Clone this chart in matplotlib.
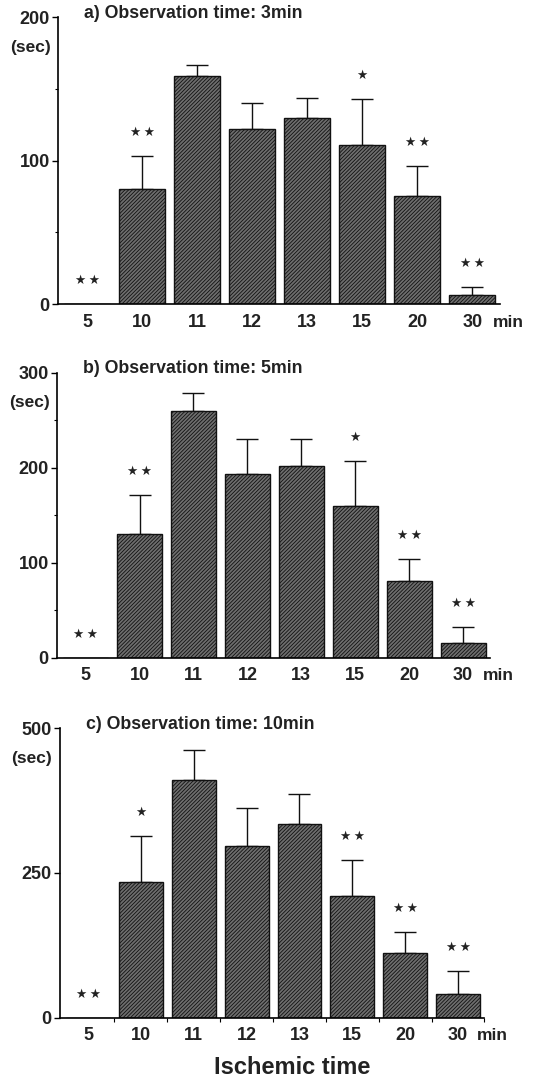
import numpy as np
import matplotlib
matplotlib.use("Agg")
import matplotlib.pyplot as plt
from matplotlib.ticker import MultipleLocator

plt.rcParams['font.family'] = ['Liberation Sans', 'DejaVu Sans']
plt.rcParams['font.weight'] = 'bold'
plt.rcParams['hatch.linewidth'] = 0.6

# ischemic time categories (min)
categories = ['5', '10', '11', '12', '13', '15', '20', '30']

# a) observation time 3 min
mean_3 = [0, 80, 159, 122, 130, 111, 75, 6]
err_3 = [0, 23, 8, 18, 14, 32, 21, 6]
sig_3 = ['**', '**', '', '', '', '*', '**', '**']

# b) observation time 5 min
mean_5 = [0, 130, 260, 193, 202, 160, 81, 16]
err_5 = [0, 41, 19, 37, 28, 47, 23, 16]
sig_5 = ['**', '**', '', '', '', '*', '**', '**']

# c) observation time 10 min
mean_10 = [0, 234, 410, 297, 334, 210, 112, 41]
err_10 = [0, 80, 52, 66, 52, 63, 36, 39]
sig_10 = ['**', '*', '', '', '', '**', '**', '**']

panels = [
    ('a) Observation time: 3min', mean_3, err_3, sig_3, 200, 100, 50,
     [0.108, 0.7185, 0.821, 0.2655]),
    ('b) Observation time: 5min', mean_5, err_5, sig_5, 300, 100, 50,
     [0.106, 0.391, 0.805, 0.264]),
    ('c) Observation time: 10min', mean_10, err_10, sig_10, 500, 250, None,
     [0.1115, 0.0577, 0.789, 0.268]),
]

fig = plt.figure(figsize=(5.38, 10.8), dpi=100)

for i, (title, mean, err, sig, ymax, major, minor, pos) in enumerate(panels):
    ax = fig.add_axes(pos)
    x = np.arange(len(categories))
    mean = np.array(mean)
    err = np.array(err)
    ax.bar(x, mean, width=0.83, color='#6e6e6e', edgecolor='#111111',
           linewidth=1.0, hatch='/////////', zorder=2)
    has = mean > 0
    ax.errorbar(x[has], mean[has], yerr=[np.zeros(has.sum()), err[has]],
                fmt='none', ecolor='#111111', elinewidth=1.0, capsize=8,
                capthick=1.0, zorder=1)
    # significance stars above the error bars
    for xi, m, e, s in zip(x, mean, err, sig):
        if s:
            ax.annotate('\u2009'.join('\u2605' * len(s)), xy=(xi, m + e),
                        xytext=(0, 17), textcoords='offset points',
                        ha='center', va='center', fontsize=9,
                        family=['DejaVu Sans'], color='#222222')

    ax.set_xlim(-0.53, 7.5)
    ax.set_ylim(0, ymax)
    ax.set_xticks(x)
    ax.set_xticklabels(categories, fontsize=13, fontweight='bold',
                       color='#222222')
    ax.yaxis.set_major_locator(MultipleLocator(major))
    if minor:
        ax.yaxis.set_minor_locator(MultipleLocator(minor))
    ax.tick_params(axis='y', which='major', length=4, width=1.0,
                   labelsize=13, pad=2, labelcolor='#222222')
    ax.tick_params(axis='y', which='minor', length=2.5, width=0.8)
    if i == 2:
        ax.set_xticks(list(x[:-1] + 0.5) + [7.5], minor=True)
        ax.tick_params(axis='x', which='minor', length=3, width=0.8)
    ax.tick_params(axis='x', which='major', length=0, pad=7)
    for lab in ax.get_yticklabels():
        lab.set_fontweight('bold')

    for side in ['top', 'right']:
        ax.spines[side].set_visible(False)
    ax.spines['left'].set_linewidth(1.2)
    ax.spines['bottom'].set_linewidth(1.2)

    ax.annotate(title, xy=(0, 1), xycoords='axes fraction',
                xytext=(19, 3), textcoords='offset points',
                ha='left', va='center', fontsize=12.8, fontweight='bold',
                color='#222222')
    ax.annotate('(sec)', xy=(0, 1), xycoords='axes fraction',
                xytext=(-5.5, -21.5), textcoords='offset points',
                ha='right', va='center', fontsize=12.5, fontweight='bold',
                color='#222222')
    ax.annotate('min', xy=(7.65, 0), xycoords=ax.get_xaxis_transform(),
                xytext=(0, -13), textcoords='offset points',
                ha='center', va='center', fontsize=12.5, fontweight='bold',
                color='#222222', annotation_clip=False)

fig.text(292 / 538, 1 - 1068 / 1080, 'Ischemic time', ha='center',
         va='center', fontsize=17, fontweight='bold', color='#222222')

fig.savefig('out.png', dpi=100)
